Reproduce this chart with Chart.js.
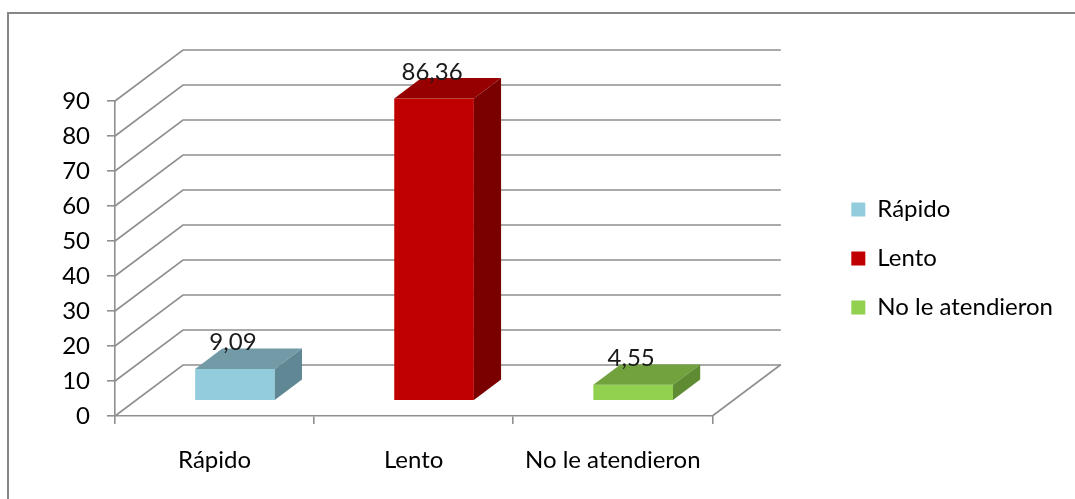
<!DOCTYPE html>
<html>
<head>
<meta charset="utf-8">
<script src="https://cdn.jsdelivr.net/npm/chart.js@4/dist/chart.umd.min.js"></script>
<style>
  html, body { margin: 0; padding: 0; background: #fff; }
  #wrap { width: 1075px; height: 499px; position: relative; }
</style>
</head>
<body>
<div id="wrap"><canvas id="c"></canvas></div>
<script>
// ---- data ----
const categories = ['Rápido', 'Lento', 'No le atendieron'];
const values = [9.09, 86.36, 4.55];
const yTickValues = [0, 10, 20, 30, 40, 50, 60, 70, 80, 90];

// ---- styles ----
const frontColors = ['#93CDDD', '#C00000', '#92D050'];
const topColors   = ['#739AA7', '#960000', '#71A23E'];
const sideColors  = ['#5F8894', '#7A0000', '#5F8B33'];
const FONT = 'Lato, "Open Sans", sans-serif';
const FSIZE = 24;
const LINE = '#8f8f8f';
const DEPTH_X = 68, DEPTH_Y = -51;      // floor depth (3D projection)
const BAR_START = 0.3, BAR_DEPTH = 0.4; // bar position inside the depth

const fmt = v => v.toFixed(2).replace('.', ',');

const threeD = {
  id: 'threeD',
  beforeDraw(chart) {
    const ctx = chart.ctx;
    ctx.save();
    ctx.strokeStyle = '#878787';
    ctx.lineWidth = 2;
    ctx.strokeRect(8, 13, 1200, 700);
    ctx.restore();
  },
  beforeDatasetsDraw(chart) {
    const ctx = chart.ctx;
    const ys = chart.scales.y, xs = chart.scales.x;
    const L = xs.left, R = xs.right;
    ctx.save();
    ctx.strokeStyle = LINE;
    ctx.lineWidth = 1.6;
    ctx.lineCap = 'round';
    ys.ticks.forEach(t => {
      const y = ys.getPixelForValue(t.value);
      ctx.beginPath();
      ctx.moveTo(L, y);
      ctx.lineTo(L + DEPTH_X, y + DEPTH_Y);
      ctx.lineTo(R + DEPTH_X, y + DEPTH_Y);
      ctx.stroke();
    });
    const y0 = ys.getPixelForValue(0);
    ctx.beginPath();
    ctx.moveTo(R, y0);
    ctx.lineTo(R + DEPTH_X, y0 + DEPTH_Y);
    ctx.stroke();
    ctx.restore();
    ctx.save();
    ctx.translate(DEPTH_X * BAR_START, DEPTH_Y * BAR_START);
  },
  afterDatasetsDraw(chart) {
    const ctx = chart.ctx;
    ctx.restore();
    const ox = DEPTH_X * BAR_START, oy = DEPTH_Y * BAR_START;
    const dx = DEPTH_X * BAR_DEPTH, dy = DEPTH_Y * BAR_DEPTH;
    const meta = chart.getDatasetMeta(0);
    ctx.save();
    meta.data.forEach((bar, i) => {
      const p = bar.getProps(['x', 'y', 'base', 'width'], true);
      const x0 = p.x - p.width / 2 + ox, x1 = p.x + p.width / 2 + ox;
      const yt = p.y + oy, yb = p.base + oy;
      ctx.fillStyle = topColors[i];
      ctx.beginPath();
      ctx.moveTo(x0, yt); ctx.lineTo(x1, yt);
      ctx.lineTo(x1 + dx, yt + dy); ctx.lineTo(x0 + dx, yt + dy);
      ctx.closePath(); ctx.fill();
      ctx.fillStyle = sideColors[i];
      ctx.beginPath();
      ctx.moveTo(x1, yt); ctx.lineTo(x1 + dx, yt + dy);
      ctx.lineTo(x1 + dx, yb + dy); ctx.lineTo(x1, yb);
      ctx.closePath(); ctx.fill();
      ctx.fillStyle = '#1a1a1a';
      ctx.font = FSIZE + 'px ' + FONT;
      ctx.textAlign = 'center';
      ctx.textBaseline = 'middle';
      ctx.fillText(fmt(values[i]), p.x + ox - 2, yt + dy - 6);
    });
    ctx.restore();
  }
};

new Chart(document.getElementById('c'), {
  type: 'bar',
  data: {
    labels: categories,
    datasets: [{
      data: values,
      backgroundColor: frontColors,
      borderWidth: 0,
      categoryPercentage: 1,
      barPercentage: 0.4,
      clip: false
    }]
  },
  options: {
    responsive: true,
    maintainAspectRatio: false,
    animation: false,
    font: { family: FONT, size: FSIZE },
    layout: { padding: { top: 101, bottom: 0, left: 0, right: 12 } },
    plugins: {
      tooltip: { enabled: false },
      legend: {
        position: 'right',
        align: 'center',
        fullSize: false,
        onClick: null,
        labels: {
          boxWidth: 14,
          boxHeight: 14,
          padding: 25,
          color: '#000',
          font: { family: FONT, size: FSIZE },
          generateLabels: () => categories.map((c, i) => ({
            text: c, fillStyle: frontColors[i], strokeStyle: frontColors[i],
            lineWidth: 0, hidden: false, index: i, fontColor: '#000'
          }))
        }
      }
    },
    scales: {
      x: {
        offset: true,
        grid: { display: true, offset: true, drawOnChartArea: false, drawTicks: true, tickLength: 8, color: LINE, lineWidth: 1.6 },
        border: { display: true, color: LINE, width: 1.6 },
        ticks: { color: '#000', padding: 22, font: { family: FONT, size: FSIZE }, maxRotation: 0 },
        afterFit: s => { s.height = 83; }
      },
      y: {
        min: 0, max: 90,
        afterBuildTicks: s => { s.ticks = yTickValues.map(v => ({ value: v })); },
        grid: { display: true, drawOnChartArea: false, drawTicks: true, tickLength: 8, color: LINE, lineWidth: 1.6 },
        border: { display: true, color: LINE, width: 1.6 },
        ticks: { color: '#000', padding: 17, font: { family: FONT, size: FSIZE } },
        afterFit: s => { s.width = 115; }
      },
      y2: {
        type: 'linear',
        position: 'right',
        display: false,
        afterFit: s => { s.width = 114; }
      }
    }
  },
  plugins: [threeD]
});
</script>
</body>
</html>
